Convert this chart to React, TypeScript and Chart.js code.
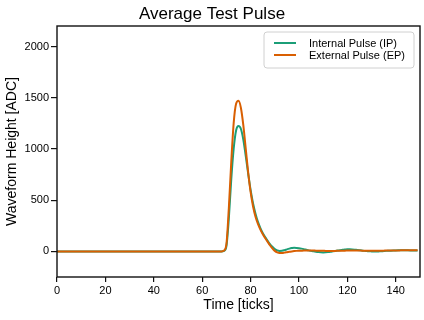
import React, { useEffect, useRef } from "react";
import { Chart, registerables } from "chart.js";

Chart.register(...registerables);

const titleText = "Average Test Pulse";
const xTitle = "Time [ticks]";
const yTitle = "Waveform Height [ADC]";
const xTicks = [0, 20, 40, 60, 80, 100, 120, 140];
const yTicks = [0, 500, 1000, 1500, 2000];

const ipLabel = "Internal Pulse (IP)";
const epLabel = "External Pulse (EP)";

// values at ticks 0..149
const ipValues = [
  0, 0, 0, 0, 0, 0, 0, 0, 0, 0,
  0, 0, 0, 0, 0, 0, 0, 0, 0, 0,
  0, 0, 0, 0, 0, 0, 0, 0, 0, 0,
  0, 0, 0, 0, 0, 0, 0, 0, 0, 0,
  0, 0, 0, 0, 0, 0, 0, 0, 0, 0,
  0, 0, 0, 0, 0, 0, 0, 0, 0, 0,
  0, 0, 0, 0, 0, 0, 0, 0, 0, 5,
  50, 320, 700, 1000, 1180, 1223, 1195, 1090, 930, 760,
  600, 470, 370, 290, 230, 180, 140, 105, 72, 45,
  24, 10, 5, 6, 12, 20, 27, 32, 35, 34,
  31, 27, 22, 16, 10, 5, 0, -4, -7, -9,
  -10, -9, -7, -4, 0, 4, 8, 12, 15, 18,
  20, 20, 19, 17, 14, 11, 8, 5, 3, 1,
  0, -1, -1, 0, 1, 3, 5, 6, 7, 8,
  9, 10, 11, 11, 11, 10, 9, 8, 8, 8,
];

const epValues = [
  0, 0, 0, 0, 0, 0, 0, 0, 0, 0,
  0, 0, 0, 0, 0, 0, 0, 0, 0, 0,
  0, 0, 0, 0, 0, 0, 0, 0, 0, 0,
  0, 0, 0, 0, 0, 0, 0, 0, 0, 0,
  0, 0, 0, 0, 0, 0, 0, 0, 0, 0,
  0, 0, 0, 0, 0, 0, 0, 0, 0, 0,
  0, 0, 0, 0, 0, 0, 0, 0, 0, 8,
  70, 420, 870, 1250, 1440, 1470, 1400, 1230, 1000, 770,
  580, 440, 340, 270, 215, 170, 130, 95, 60, 30,
  5, -10, -15, -15, -12, -8, -4, 0, 3, 5,
  6, 7, 8, 8, 8, 8, 8, 7, 7, 6,
  6, 5, 5, 5, 5, 5, 6, 6, 7, 7,
  8, 8, 8, 8, 8, 8, 7, 7, 6, 6,
  6, 6, 6, 6, 7, 7, 8, 8, 8, 9,
  9, 9, 10, 10, 10, 10, 10, 10, 10, 10,
];

const xRange = [0, 150];
const yRange = [-250, 2200];

const IP_COLOR = "#1b9e77";
const EP_COLOR = "#d95f02";
const FONT = "'Liberation Sans', Arial, Helvetica, sans-serif";

const framePlugin = {
  id: "frameAndLegend",
  afterDatasetsDraw(chart: any) {
    const { ctx, chartArea } = chart;
    ctx.save();
    // frame
    ctx.strokeStyle = "#111";
    ctx.lineWidth = 1.4;
    ctx.strokeRect(chartArea.left, chartArea.top, chartArea.right - chartArea.left, chartArea.bottom - chartArea.top);

    // legend
    const bx = chartArea.right - 156;
    const by = chartArea.top + 6;
    const bw = 150;
    const bh = 36;
    ctx.beginPath();
    const r = 3;
    ctx.moveTo(bx + r, by);
    ctx.lineTo(bx + bw - r, by);
    ctx.quadraticCurveTo(bx + bw, by, bx + bw, by + r);
    ctx.lineTo(bx + bw, by + bh - r);
    ctx.quadraticCurveTo(bx + bw, by + bh, bx + bw - r, by + bh);
    ctx.lineTo(bx + r, by + bh);
    ctx.quadraticCurveTo(bx, by + bh, bx, by + bh - r);
    ctx.lineTo(bx, by + r);
    ctx.quadraticCurveTo(bx, by, bx + r, by);
    ctx.closePath();
    ctx.fillStyle = "rgba(255,255,255,0.8)";
    ctx.fill();
    ctx.strokeStyle = "#d0d0d0";
    ctx.lineWidth = 1;
    ctx.stroke();

    const items = chart.data.datasets;
    ctx.font = `11px ${FONT}`;
    ctx.textBaseline = "middle";
    ctx.textAlign = "left";
    items.forEach((ds: any, i: number) => {
      const y = by + 11 + i * 12;
      ctx.strokeStyle = ds.borderColor;
      ctx.lineWidth = 2;
      ctx.beginPath();
      ctx.moveTo(bx + 10, y);
      ctx.lineTo(bx + 32, y);
      ctx.stroke();
      ctx.fillStyle = "#000";
      ctx.fillText(ds.label, bx + 45, y + 0.5);
    });

    // title
    ctx.font = `17px ${FONT}`;
    ctx.textAlign = "center";
    ctx.textBaseline = "alphabetic";
    ctx.fillStyle = "#000";
    ctx.fillText(titleText, chart.width / 2, 18.5);
    ctx.restore();
  },
};

export default function App() {
  const ref = useRef<HTMLCanvasElement | null>(null);

  useEffect(() => {
    document.body.style.margin = "0";
    if (!ref.current) return;
    const ipData = ipValues.map((v, i) => ({ x: i, y: v }));
    const epData = epValues.map((v, i) => ({ x: i, y: v }));
    const chart = new Chart(ref.current, {
      type: "line",
      data: {
        datasets: [
          {
            label: ipLabel,
            data: ipData,
            borderColor: IP_COLOR,
            backgroundColor: IP_COLOR,
            borderWidth: 2,
            pointRadius: 0,
            cubicInterpolationMode: "monotone",
            order: 1,
          },
          {
            label: epLabel,
            data: epData,
            borderColor: EP_COLOR,
            backgroundColor: EP_COLOR,
            borderWidth: 2,
            pointRadius: 0,
            cubicInterpolationMode: "monotone",
            order: 0,
          },
        ],
      },
      options: {
        animation: false,
        responsive: true,
        maintainAspectRatio: false,
        layout: { padding: { top: 26, right: 4, left: 0, bottom: 0 } },
        plugins: {
          legend: { display: false },
          title: { display: false },
          tooltip: { enabled: false },
        },
        scales: {
          x: {
            type: "linear",
            min: xRange[0],
            max: xRange[1],
            afterBuildTicks: (s: any) => {
              s.ticks = xTicks.map((v) => ({ value: v }));
            },
            afterFit: (s: any) => {
              s.height = 43;
            },
            grid: {
              drawOnChartArea: false,
              drawTicks: true,
              tickLength: 5,
              color: "#111",
              lineWidth: 1.2,
            },
            border: { display: false },
            ticks: {
              color: "#000",
              font: { size: 11, family: FONT },
              padding: 2,
              maxRotation: 0,
              callback: (v: any) => String(v),
            },
            title: {
              display: true,
              text: xTitle,
              color: "#000",
              font: { size: 14, family: FONT },
              padding: { top: 0, bottom: 6 },
            },
          },
          y: {
            type: "linear",
            min: yRange[0],
            max: yRange[1],
            afterBuildTicks: (s: any) => {
              s.ticks = yTicks.map((v) => ({ value: v }));
            },
            afterFit: (s: any) => {
              s.width = 57;
            },
            grid: {
              drawOnChartArea: false,
              drawTicks: true,
              tickLength: 6,
              color: "#111",
              lineWidth: 1.2,
            },
            border: { display: false },
            ticks: {
              color: "#000",
              font: { size: 11, family: FONT },
              padding: 2,
              callback: (v: any) => String(v),
            },
            title: {
              display: true,
              text: yTitle,
              color: "#000",
              font: { size: 14, family: FONT },
              padding: { top: 4, bottom: 0 },
            },
          },
        },
      },
      plugins: [framePlugin],
    });
    return () => chart.destroy();
  }, []);

  return (
    <div style={{ width: 424, height: 320, position: "relative" }}>
      <canvas ref={ref} />
    </div>
  );
}
